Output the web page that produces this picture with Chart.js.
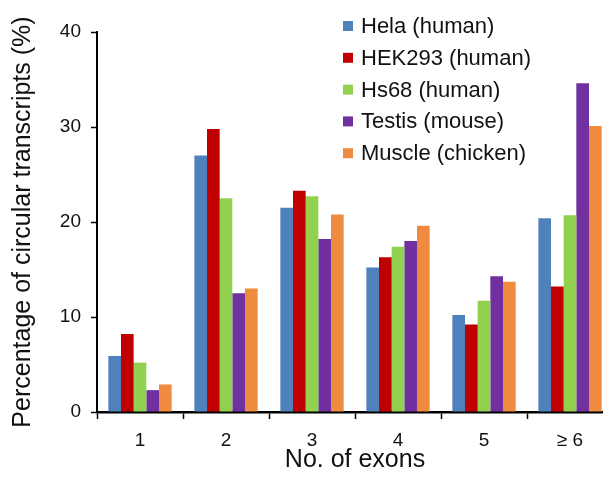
<!DOCTYPE html>
<html>
<head>
<meta charset="utf-8">
<script src="https://cdn.jsdelivr.net/npm/chart.js@4/dist/chart.umd.min.js"></script>
<style>
  html, body { margin: 0; padding: 0; background: #fff; overflow: hidden; }
  #wrap { width: 603px; height: 479px; overflow: hidden; }
</style>
</head>
<body>
<div id="wrap"><canvas id="c" width="640" height="479"></canvas></div>
<script>
// Exon-count categories
const exonCounts = ['1', '2', '3', '4', '5', '\u2265 6'];

// Share of circular transcripts (%) per exon count, by sample
const hela    = [5.9, 27.0, 21.5, 15.2, 10.2, 20.4];
const hek293  = [8.2, 29.8, 23.3, 16.3,  9.2, 13.2];
const hs68    = [5.2, 22.5, 22.7, 17.4, 11.7, 20.7];
const testis  = [2.3, 12.5, 18.2, 18.0, 14.3, 34.6];
const muscle  = [2.9, 13.0, 20.8, 19.6, 13.7, 30.1];

const seriesNames = ['Hela (human)', 'HEK293 (human)', 'Hs68 (human)', 'Testis (mouse)', 'Muscle (chicken)'];
const seriesColors = ['#4F81BD', '#C00000', '#92D050', '#7030A0', '#EE8B3E'];

const yTicks = [0, 10, 20, 30, 40];

const FONT = "'Liberation Sans', Arial, sans-serif";

// Legend drawn inside the plot area, top right
const insideLegend = {
  id: 'insideLegend',
  afterDraw(chart) {
    const ctx = chart.ctx;
    ctx.save();
    ctx.font = '22px ' + FONT;
    ctx.textBaseline = 'middle';
    ctx.textAlign = 'left';
    chart.data.datasets.forEach((ds, i) => {
      const cy = 26 + i * 31.8;
      ctx.fillStyle = ds.backgroundColor;
      ctx.fillRect(343, cy - 5, 10, 10);
      ctx.fillStyle = '#111';
      ctx.fillText(ds.label, 361, cy + 1);
    });
    ctx.restore();
  }
};

const seriesData = [hela, hek293, hs68, testis, muscle];

new Chart(document.getElementById('c'), {
  type: 'bar',
  data: {
    labels: exonCounts,
    datasets: seriesData.map((vals, i) => ({
      label: seriesNames[i],
      data: vals,
      backgroundColor: seriesColors[i],
      borderWidth: 0,
      categoryPercentage: 0.736,
      barPercentage: 1.0
    }))
  },
  options: {
    responsive: false,
    animation: false,
    layout: { padding: { left: 0, top: 32, right: 27, bottom: 0 } },
    plugins: {
      legend: { display: false },
      tooltip: { enabled: false }
    },
    scales: {
      x: {
        afterFit(scale) { scale.height = 67; },
        grid: {
          display: true,
          offset: true,
          drawOnChartArea: false,
          drawTicks: true,
          tickLength: 7,
          tickColor: '#000',
          tickWidth: 1.5
        },
        border: { display: true, color: '#000', width: 2.5 },
        ticks: {
          color: '#111',
          font: { family: FONT, size: 19 },
          padding: 10,
          maxRotation: 0
        },
        title: {
          display: true,
          text: 'No. of exons',
          color: '#111',
          font: { family: FONT, size: 25 },
          padding: { top: 0, bottom: 4 }
        }
      },
      y: {
        min: 0,
        max: 40,
        afterFit(scale) { scale.width = 97; },
        afterBuildTicks(scale) { scale.ticks = yTicks.map(v => ({ value: v })); },
        grid: {
          display: true,
          drawOnChartArea: false,
          drawTicks: true,
          tickLength: 6,
          tickColor: '#000',
          tickWidth: 1.5
        },
        border: { display: true, color: '#000', width: 2 },
        ticks: {
          color: '#111',
          font: { family: FONT, size: 19 },
          padding: 10
        },
        title: {
          display: true,
          text: 'Percentage of circular transcripts (%)',
          color: '#111',
          font: { family: FONT, size: 25 },
          padding: { top: 8, bottom: 0 }
        }
      }
    }
  },
  plugins: [insideLegend]
});
</script>
</body>
</html>
